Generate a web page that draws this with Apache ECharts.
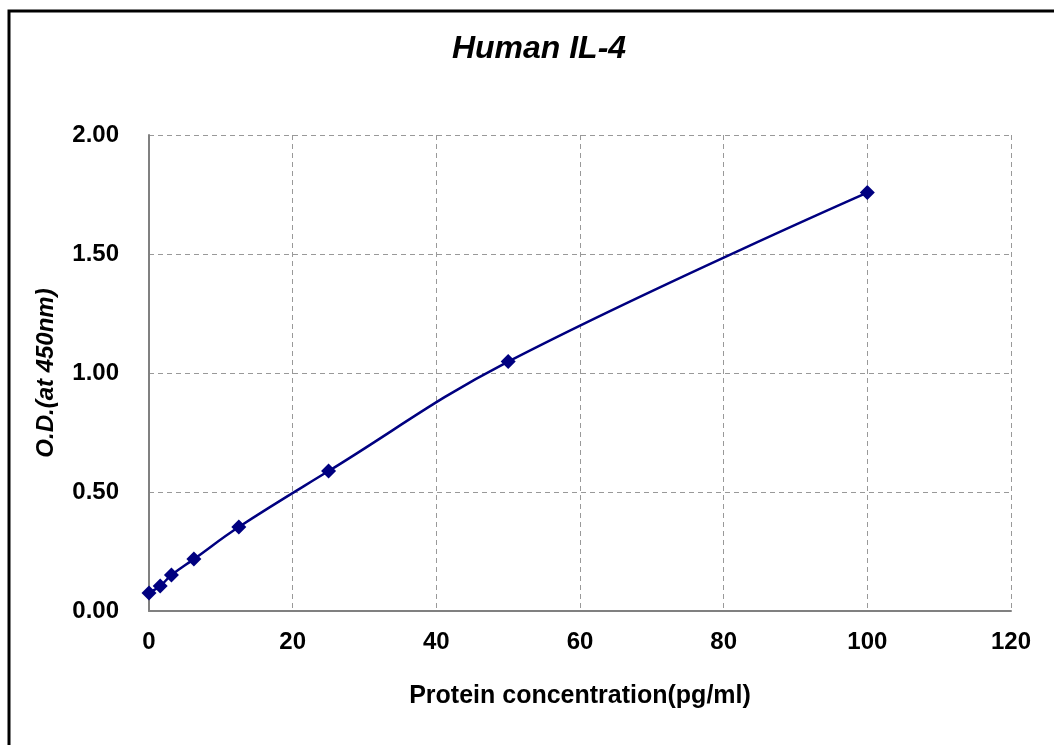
<!DOCTYPE html>
<html>
<head>
<meta charset="utf-8">
<script src="https://cdn.jsdelivr.net/npm/echarts@6/dist/echarts.min.js"></script>
<style>
html,body{margin:0;padding:0;background:#fff;}
#chart{width:1054px;height:745px;}
</style>
</head>
<body>
<div id="chart"></div>
<script>
const concentrations = [0, 1.56, 3.125, 6.25, 12.5, 25, 50, 100];
const odValues = [0.076, 0.105, 0.151, 0.218, 0.353, 0.588, 1.048, 1.758];
const xTicks = [0, 20, 40, 60, 80, 100, 120];
const yTicks = [0, 0.5, 1.0, 1.5, 2.0];

const FONT = '"Liberation Sans", Arial, sans-serif';
const chart = echarts.init(document.getElementById('chart'));
chart.setOption({
  animation: false,
  backgroundColor: '#fff',
  title: {
    text: 'Human IL-4',
    left: 534, top: 28, textAlign: 'center',
    textStyle: {fontFamily: FONT, fontSize: 32, fontWeight: 'bold', fontStyle: 'italic', color: '#000'}
  },
  grid: {left: 149, top: 135, width: 862, height: 476},
  xAxis: {
    type: 'value', min: xTicks[0], max: xTicks[xTicks.length-1], interval: 20,
    name: 'Protein concentration(pg/ml)', nameLocation: 'middle', nameGap: 73,
    nameTextStyle: {fontFamily: FONT, fontSize: 25, fontWeight: 'bold', color: '#000'},
    axisLine: {lineStyle: {color: '#808080', width: 2}},
    axisTick: {show: false},
    axisLabel: {fontFamily: FONT, fontSize: 24, fontWeight: 'bold', color: '#000', margin: 19},
    splitLine: {show: true, lineStyle: {color: '#999', type: [5, 4], width: 1}}
  },
  yAxis: {
    type: 'value', min: yTicks[0], max: yTicks[yTicks.length-1], interval: 0.5,
    name: 'O.D.(at 450nm)', nameLocation: 'middle', nameGap: 91,
    nameTextStyle: {fontFamily: FONT, fontSize: 24, fontWeight: 'bold', fontStyle: 'italic', color: '#000'},
    axisLine: {show: true, lineStyle: {color: '#808080', width: 2}},
    axisTick: {show: false},
    axisLabel: {fontFamily: FONT, fontSize: 24, fontWeight: 'bold', color: '#000', margin: 30,
      formatter: v => v.toFixed(2)},
    splitLine: {show: true, lineStyle: {color: '#999', type: [5, 4], width: 1}}
  },
  graphic: [{
    type: 'rect', silent: true, z: 100,
    shape: {x: 9, y: 11, width: 1200, height: 900},
    style: {fill: 'none', stroke: '#000', lineWidth: 3}
  }],
  series: [{
    type: 'line',
    data: concentrations.map((c, i) => [c, odValues[i]]),
    smooth: 0.4,
    symbol: 'diamond', symbolSize: 15,
    lineStyle: {color: '#000080', width: 2.5},
    itemStyle: {color: '#000080'}
  }]
});
</script>
</body>
</html>
